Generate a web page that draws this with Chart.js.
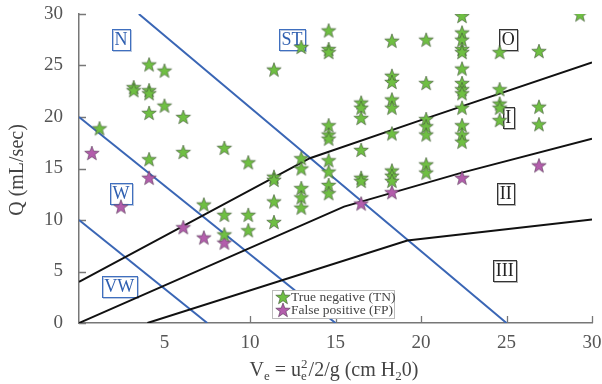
<!DOCTYPE html>
<html>
<head>
<meta charset="utf-8">
<script src="https://cdn.jsdelivr.net/npm/chart.js@4.4.0/dist/chart.umd.min.js"></script>
<style>
  html, body { margin: 0; padding: 0; background: #fff; }
  #wrap { width: 602px; height: 384px; }
</style>
</head>
<body>
<div id="wrap"><canvas id="chart" width="602" height="384"></canvas></div>
<script>
// true negative (TN) points, Ve vs Q
const tnX = [
  1.2,
  3.2, 3.2,
  4.1, 4.1, 4.1, 4.1, 4.1,
  5.0, 5.0,
  6.1, 6.1,
  7.3,
  8.5, 8.5, 8.5,
  9.9, 9.9, 9.9,
  11.4, 11.4, 11.4, 11.4, 11.4,
  13.0, 13.0, 13.0, 13.0, 13.0, 13.0,
  14.6, 14.6, 14.6, 14.6, 14.6, 14.6, 14.6, 14.6, 14.6, 14.6,
  16.5, 16.5, 16.5, 16.5, 16.5, 16.5,
  18.3, 18.3, 18.3, 18.3, 18.3, 18.3, 18.3, 18.3, 18.3,
  20.3, 20.3, 20.3, 20.3, 20.3, 20.3, 20.3,
  22.4, 22.4, 22.4, 22.4, 22.4, 22.4, 22.4, 22.4, 22.4, 22.4, 22.4, 22.4, 22.4,
  24.6, 24.6, 24.6, 24.6, 24.6,
  26.9, 26.9, 26.9,
  29.3
];
const tnY = [
  18.9,
  22.9, 22.6,
  25.1, 22.6, 22.3, 20.4, 15.9,
  24.5, 21.1,
  20.0, 16.6,
  11.5,
  17.0, 10.5, 8.6,
  15.6, 10.5, 9.0,
  24.6, 14.2, 13.9, 11.8, 9.8,
  26.8, 16.0, 15.0, 13.1, 12.2, 11.2,
  28.4, 26.6, 26.3, 19.2, 18.3, 17.9, 15.8, 14.7, 13.4, 12.6,
  21.4, 20.9, 19.9, 16.8, 14.1, 13.8,
  27.4, 24.0, 23.4, 21.7, 20.9, 18.4, 14.8, 14.3, 13.8,
  27.5, 23.3, 19.8, 19.1, 18.3, 15.4, 14.6,
  29.8, 28.2, 27.5, 26.6, 26.3, 24.7, 23.3, 22.7, 22.3, 20.9, 19.2, 18.3, 17.6,
  26.3, 22.7, 21.3, 20.9, 19.7,
  26.4, 21.0, 19.3,
  29.95
];

// false positive (FP) points
const fpX = [0.75, 2.45, 4.1, 6.1, 7.3, 8.5, 16.5, 18.3, 22.4, 26.9];
const fpY = [16.5, 11.3, 14.1, 9.3, 8.3, 7.8, 11.6, 12.7, 14.1, 15.3];

// black boundaries (O / I / II / III)
const lineAX = [0, 13.5, 20, 30];
const lineAY = [4, 16, 19.7, 25.3];
const lineBX = [0, 15.5, 22.4, 30];
const lineBY = [0, 11.3, 14.6, 17.9];
const lineCX = [4, 19.2, 30];
const lineCY = [0, 8.0, 10.05];

// blue boundaries (N / ST / W / VW)
const blueAX = [3.5, 25];
const blueAY = [30, 0];
const blueBX = [0, 15];
const blueBY = [20, 0];
const blueCX = [0, 7.5];
const blueCY = [10, 0];

// region labels, in data units
const regionNames = ['N', 'ST', 'W', 'VW', 'O', 'I', 'II', 'III'];
const regionX = [2.45, 12.45, 2.45, 2.35, 25.1, 25.1, 24.95, 24.9];
const regionY = [27.55, 27.55, 12.55, 3.55, 27.5, 19.95, 12.55, 5.1];
const regionBlue = [true, true, true, true, false, false, false, false];

const serif = '"Liberation Serif", "DejaVu Serif", serif';

function pts(xs, ys) {
  return xs.map((x, i) => ({ x: x, y: ys[i] }));
}

function makeStar(fill, stroke) {
  const c = document.createElement('canvas');
  c.width = 18; c.height = 18;
  const g = c.getContext('2d');
  g.beginPath();
  for (let i = 0; i < 10; i++) {
    const r = i % 2 ? 3.1 : 7.6;
    const a = -Math.PI / 2 + i * Math.PI / 5;
    g.lineTo(9 + r * Math.cos(a), 9.6 + r * Math.sin(a));
  }
  g.closePath();
  g.fillStyle = fill;
  g.fill();
  g.strokeStyle = stroke;
  g.lineWidth = 0.8;
  g.stroke();
  return c;
}

const greenStar = makeStar('#6fbf43', 'rgba(70,90,60,0.8)');
const purpleStar = makeStar('#b35dac', 'rgba(90,60,90,0.8)');

function lineSet(xs, ys, color) {
  return {
    data: pts(xs, ys),
    showLine: true,
    borderColor: color,
    borderWidth: 2,
    pointRadius: 0,
    fill: false,
    order: 3
  };
}

// inward tick marks and boxed region labels (under the marks)
const underlay = {
  id: 'underlay',
  beforeDatasetsDraw(chart) {
    const ctx = chart.ctx;
    const xs = chart.scales.x, ys = chart.scales.y;
    const a = chart.chartArea;
    ctx.save();
    ctx.strokeStyle = '#777';
    ctx.lineWidth = 1.3;
    ctx.beginPath();
    [10, 15, 20, 25, 30].forEach(v => {
      const px = Math.round(xs.getPixelForValue(v)) + 0.5;
      ctx.moveTo(px, a.bottom);
      ctx.lineTo(px, a.bottom - 7);
    });
    [0, 5, 10, 15, 20, 25, 30].forEach(v => {
      const py = Math.round(ys.getPixelForValue(v)) + 0.5;
      ctx.moveTo(a.left, py);
      ctx.lineTo(a.left + 7, py);
    });
    ctx.stroke();

    ctx.font = '18px ' + serif;
    ctx.textAlign = 'center';
    ctx.textBaseline = 'middle';
    regionNames.forEach((name, i) => {
      const cx = xs.getPixelForValue(regionX[i]);
      const cy = ys.getPixelForValue(regionY[i]);
      const w = ctx.measureText(name).width + 5;
      const h = 21;
      const l = Math.round(cx - w / 2) + 0.5, t = Math.round(cy - h / 2) + 0.5;
      ctx.fillStyle = '#fff';
      ctx.fillRect(l, t, w, h);
      ctx.strokeStyle = regionBlue[i] ? 'rgba(60,100,170,0.35)' : 'rgba(0,0,0,0.3)';
      ctx.lineWidth = 1;
      ctx.strokeRect(l + 1, t + 1, w, h);
      ctx.strokeStyle = regionBlue[i] ? '#3f6fbf' : '#333';
      ctx.strokeRect(l, t, w, h);
      ctx.fillStyle = regionBlue[i] ? '#2f5fb0' : '#222';
      ctx.fillText(name, cx, cy + 1);
    });
    ctx.restore();
  }
};

// legend and axis titles
const overlay = {
  id: 'overlay',
  afterDatasetsDraw(chart) {
    const ctx = chart.ctx;
    ctx.save();
    const lx = 272, ly = 290, lw = 122, lh = 28;
    ctx.fillStyle = '#fff';
    ctx.fillRect(lx, ly, lw, lh);
    ctx.strokeStyle = '#bbb';
    ctx.lineWidth = 1;
    ctx.strokeRect(lx + 0.5, ly + 0.5, lw, lh);
    ctx.drawImage(greenStar, 283 - 9, 297 - 9);
    ctx.drawImage(purpleStar, 283 - 9, 310 - 9);
    ctx.font = '13.5px ' + serif;
    ctx.textAlign = 'left';
    ctx.textBaseline = 'middle';
    ctx.fillStyle = '#444';
    ctx.fillText('True negative (TN)', 291, 297.5);
    ctx.fillText('False positive (FP)', 291, 310.5);
    ctx.restore();
  },
  afterDraw(chart) {
    const ctx = chart.ctx;
    ctx.save();
    ctx.fillStyle = '#444';
    // y title
    ctx.font = '20px ' + serif;
    ctx.translate(18, 170);
    ctx.rotate(-Math.PI / 2);
    ctx.textAlign = 'center';
    ctx.textBaseline = 'middle';
    ctx.fillText('Q (mL/sec)', 0, 0);
    ctx.restore();

    // x title with sub/superscripts
    ctx.save();
    ctx.fillStyle = '#444';
    ctx.textBaseline = 'alphabetic';
    const big = '20px ' + serif, small = '13px ' + serif;
    const parts = [
      ['V', big, 0], ['e', small, 4], [' = u', big, 0], ['e|2', small, 0],
      ['/2/g (cm H', big, 0], ['2', small, 4], ['0)', big, 0]
    ];
    let total = 0;
    const widths = parts.map(p => {
      ctx.font = p[1];
      let w;
      if (p[0] === 'e|2') w = Math.max(ctx.measureText('e').width, ctx.measureText('2').width) + 1;
      else w = ctx.measureText(p[0]).width;
      total += w;
      return w;
    });
    let x = 334 - total / 2;
    const base = 376;
    ctx.textAlign = 'left';
    parts.forEach((p, i) => {
      ctx.font = p[1];
      if (p[0] === 'e|2') {
        ctx.fillText('e', x, base + 4);
        ctx.fillText('2', x, base - 8);
      } else {
        ctx.fillText(p[0], x, base + p[2]);
      }
      x += widths[i];
    });
    ctx.restore();
  }
};

new Chart(document.getElementById('chart'), {
  type: 'scatter',
  data: {
    datasets: [
      {
        label: 'True negative (TN)',
        data: pts(tnX, tnY),
        pointStyle: greenStar,
        order: 1
      },
      {
        label: 'False positive (FP)',
        data: pts(fpX, fpY),
        pointStyle: purpleStar,
        order: 1
      },
      lineSet(lineAX, lineAY, '#111'),
      lineSet(lineBX, lineBY, '#111'),
      lineSet(lineCX, lineCY, '#111'),
      lineSet(blueAX, blueAY, '#3a66b5'),
      lineSet(blueBX, blueBY, '#3a66b5'),
      lineSet(blueCX, blueCY, '#3a66b5')
    ]
  },
  options: {
    responsive: false,
    animation: false,
    layout: { padding: { top: 14, right: 10, left: 0, bottom: 0 } },
    plugins: {
      legend: { display: false },
      tooltip: { enabled: false }
    },
    elements: { line: { tension: 0 } },
    scales: {
      x: {
        type: 'linear',
        min: 0,
        max: 30,
        afterFit: s => {
          s.height = 61;
          s.paddingLeft = 0;
          s.paddingRight = 0;
        },
        grid: { display: true, drawOnChartArea: false, drawTicks: false },
        border: { display: true, color: '#777', width: 1.5 },
        ticks: {
          stepSize: 5,
          padding: 9,
          color: '#555',
          font: { family: serif, size: 19 },
          callback: v => (v === 0 ? '' : v)
        }
      },
      y: {
        type: 'linear',
        min: 0,
        max: 30,
        afterFit: s => {
          s.width = 79;
          s.paddingTop = 0;
          s.paddingBottom = 0;
        },
        grid: { display: true, drawOnChartArea: false, drawTicks: false },
        border: { display: true, color: '#777', width: 1.5 },
        ticks: {
          stepSize: 5,
          padding: 16,
          color: '#555',
          font: { family: serif, size: 19 }
        }
      }
    }
  },
  plugins: [underlay, overlay]
});
</script>
</body>
</html>
